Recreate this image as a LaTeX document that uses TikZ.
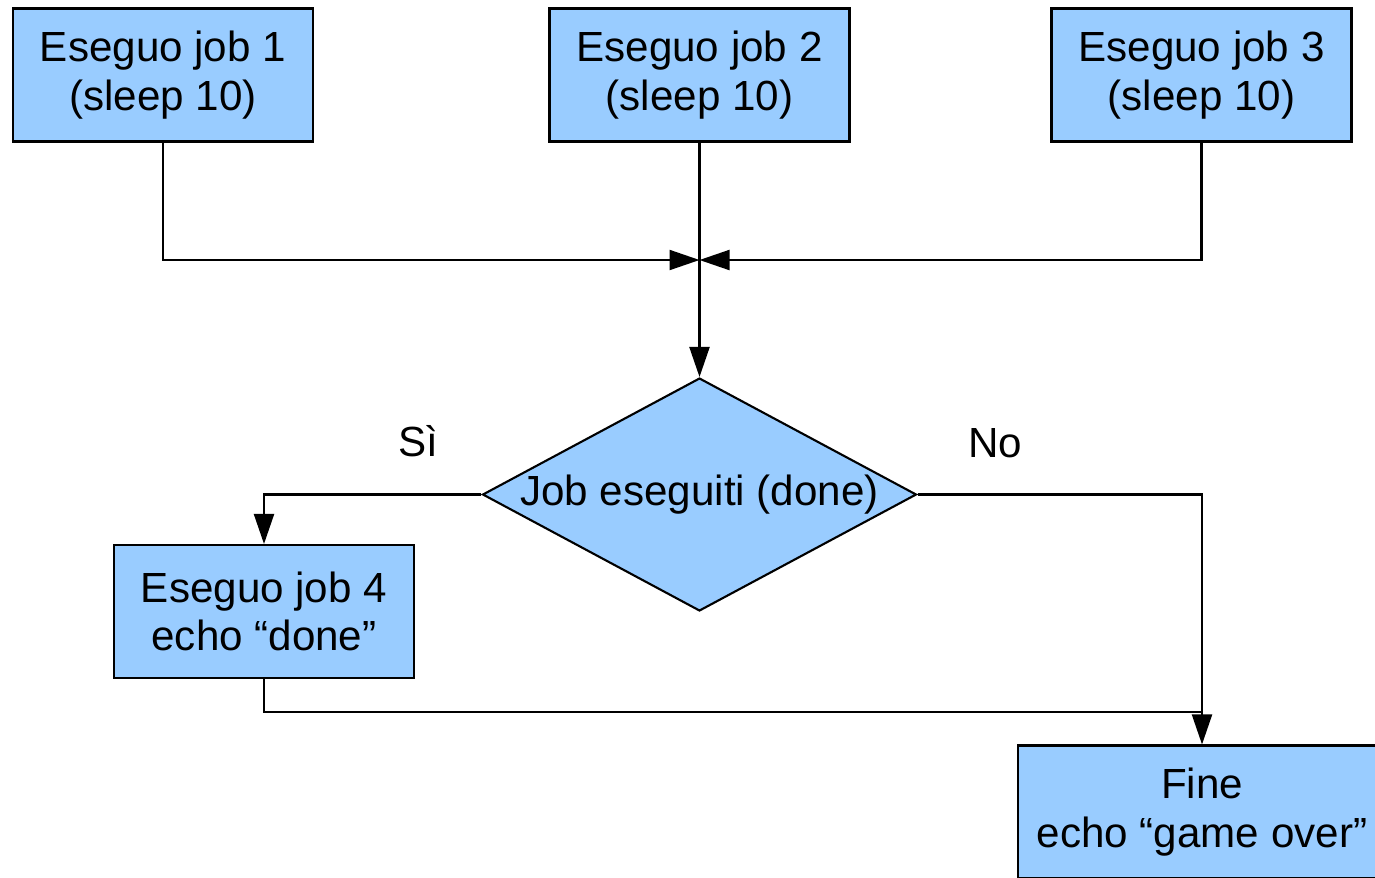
\documentclass[tikz,border=0pt]{standalone}
\usepackage{fontspec}
\setmainfont{Liberation Sans}
\usetikzlibrary{shapes.geometric,arrows.meta}
\definecolor{jobblue}{HTML}{99CCFF}
\begin{document}
\begin{tikzpicture}[x=0.02cm,y=-0.02cm,>={Triangle[length=0.6cm,width=0.4cm]},
    every node/.style={font=\fontsize{24}{27.5}\selectfont},
    jobbox/.style={draw,fill=jobblue,line width=1.2pt,minimum width=6cm,minimum height=2.66cm,align=center,inner sep=0pt},
    line width=1.2pt]
    \useasboundingbox (0,0) rectangle (1375,877);
    \clip (0,0) rectangle (1375,877);
    \node[jobbox] (job1) at (163,75) {Eseguo job 1\\(sleep 10)};
    \node[jobbox] (job2) at (699.5,75) {Eseguo job 2\\(sleep 10)};
    \node[jobbox] (job3) at (1201.5,75) {Eseguo job 3\\(sleep 10)};
    \coordinate (merge) at (699.5,260);
    \node[diamond,draw,fill=jobblue,inner sep=0pt,minimum width=8.68cm,minimum height=4.66cm] (done) at (699.5,494.5) {\makebox[0pt]{Job eseguiti (done)}};
    \node[jobbox] (job4) at (264,611.5) {Eseguo job 4\\echo “done”};
    \node[jobbox,minimum width=7.36cm] (fine) at (1202,812) {Fine\\echo “game over”};
    \coordinate (join) at (1202,712);
    \node (si) at (418,441) {Sì};
    \node (no) at (995,443) {No};
    \draw[->] (job1.south) |- (merge);
    \draw[->] (job3.south) |- (merge);
    \draw[->] (job2.south) -- (done.north);
    \draw[->] (done.west) -| (job4.north);
    \draw[->] (done.east) -| (fine.north);
    \draw (job4.south) |- (join);
\end{tikzpicture}
\end{document}
